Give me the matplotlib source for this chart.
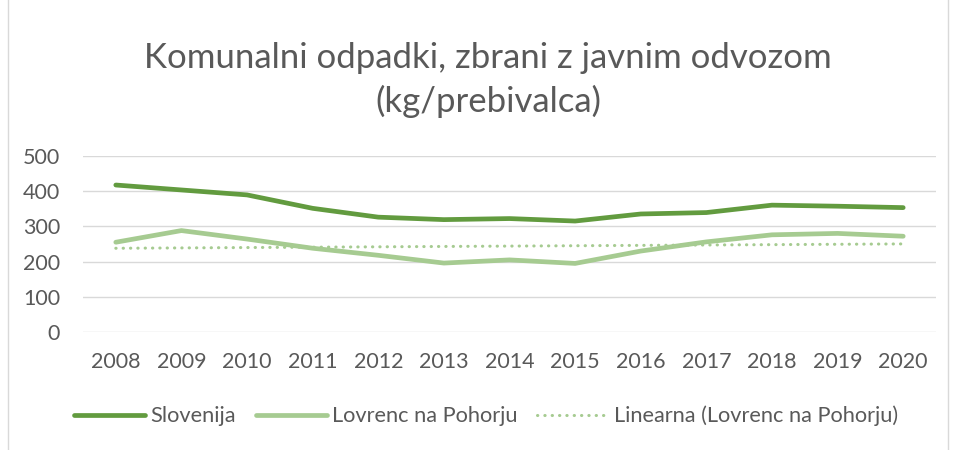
import numpy as np
import matplotlib
matplotlib.use("Agg")
import matplotlib.pyplot as plt
from matplotlib.patches import Rectangle

years = ["2008", "2009", "2010", "2011", "2012", "2013", "2014",
         "2015", "2016", "2017", "2018", "2019", "2020"]
slovenija = [417, 403, 389, 351, 326, 319, 322, 315, 335, 339, 360, 357, 353]
lovrenc = [255, 288, 264, 238, 218, 196, 205, 195, 230, 256, 276, 280, 272]
yticks = [0, 100, 200, 300, 400, 500]

title = "Komunalni odpadki, zbrani z javnim odvozom\n(kg/prebivalca)"
labels = ["Slovenija", "Lovrenc na Pohorju", "Linearna (Lovrenc na Pohorju)"]

plt.rcParams['font.family'] = ['Lato', 'DejaVu Sans']
gray = "#595959"
c_dark = "#629B3F"
c_light = "#A6CB91"

fig = plt.figure(figsize=(9.55, 4.5), dpi=100)
ax = fig.add_axes([83 / 955, 1 - 332.3 / 450, (936 - 83) / 955, (332.3 - 155.7) / 450])

x = np.arange(len(years))
ax.plot(x, slovenija, color=c_dark, lw=3.4, solid_capstyle="round", solid_joinstyle="round", label=labels[0])
ax.plot(x, lovrenc, color=c_light, lw=3.4, solid_capstyle="round", solid_joinstyle="round", label=labels[1])
coef = np.polyfit(x, lovrenc, 1)
ax.plot(x, np.polyval(coef, x), color=c_light, lw=2.2, ls=(0, (0.1, 2.3)), dash_capstyle="round", label=labels[2])

ax.set_xlim(-0.5, len(years) - 0.5)
ax.set_ylim(0, 500)
ax.set_yticks(yticks)
ax.set_xticks(x)
ax.set_xticklabels(years)
ax.grid(axis="y", color="#D9D9D9", lw=1.0)
ax.set_axisbelow(True)
for s in ax.spines.values():
    s.set_visible(False)
ax.tick_params(axis="both", length=0, colors=gray, labelsize=15.5)
ax.tick_params(axis="y", pad=16.5)
ax.tick_params(axis="x", pad=14)
for lbl in ax.get_yticklabels():
    lbl.set_horizontalalignment("right")

fig.text(0.511, 1 - 80 / 450, title, ha="center", va="center", fontsize=25, color=gray, linespacing=1.38)

leg = fig.legend(loc="center", bbox_to_anchor=(0.509, 1 - 416 / 450), ncol=3, frameon=False,
                 fontsize=15.7, handlelength=3.25, handletextpad=0.25, columnspacing=0.9)
for t in leg.get_texts():
    t.set_color(gray)

fig.patches.append(Rectangle((8 / 955, -0.01), (948 - 8) / 955, 1.02, transform=fig.transFigure,
                             fill=False, edgecolor="#D9D9D9", lw=1.0))

fig.savefig("out.png", dpi=100)
